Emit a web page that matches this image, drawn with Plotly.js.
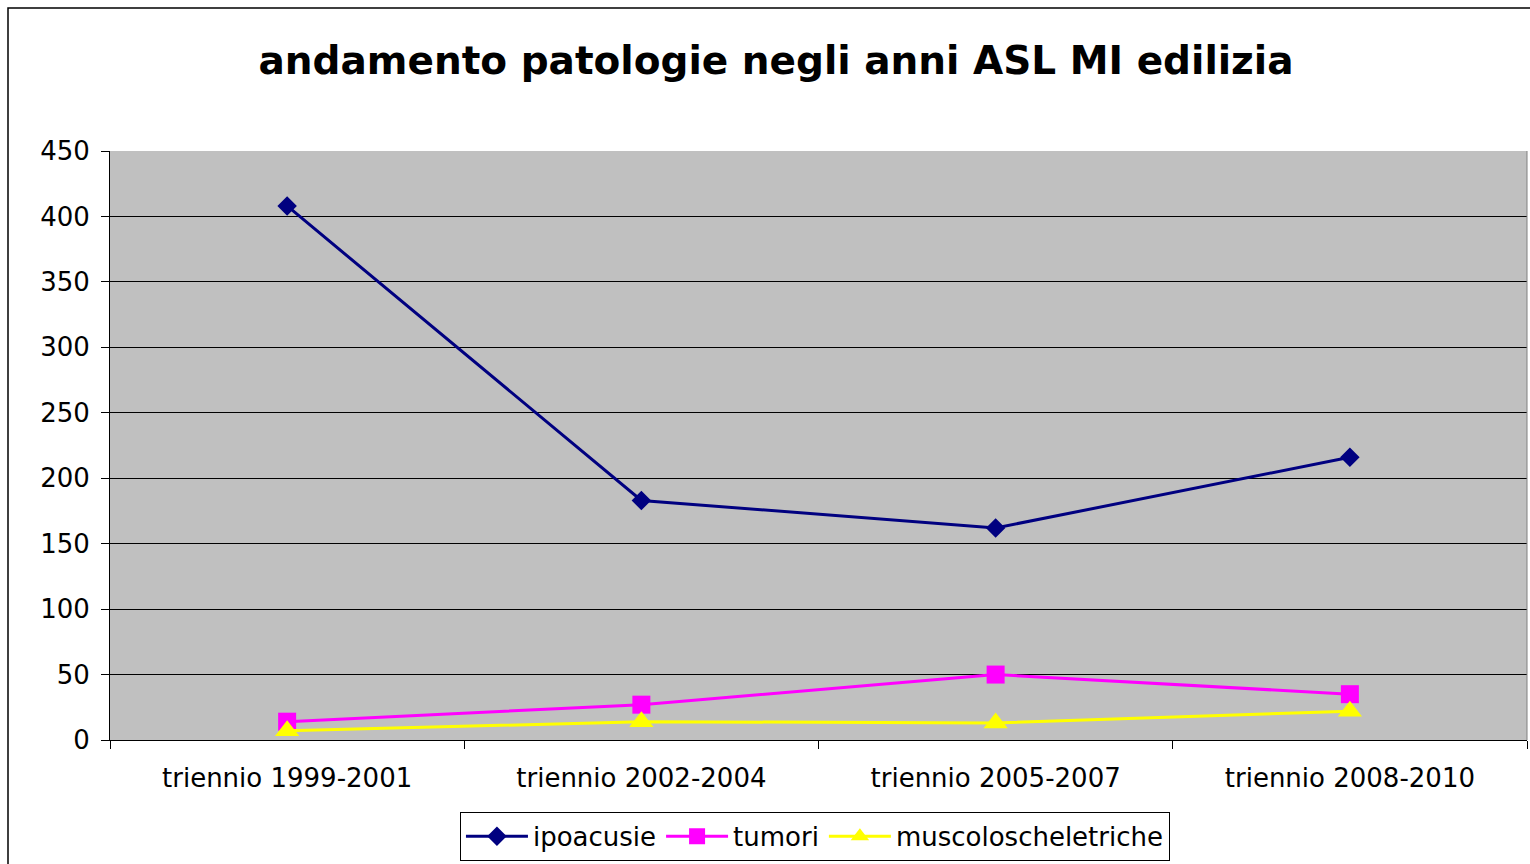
<!DOCTYPE html>
<html>
<head>
<meta charset="utf-8">
<script src="https://cdn.plot.ly/plotly-3.0.1.min.js"></script>
<style>html,body{margin:0;padding:0;background:#fff;}#chart{width:1530px;height:864px;}</style>
</head>
<body>
<div id="chart"></div>
<script>
var categories = ["triennio 1999-2001", "triennio 2002-2004", "triennio 2005-2007", "triennio 2008-2010"];
var ipoacusie = [408, 183, 162, 216];
var tumori = [14, 27, 50, 35];
var muscoloscheletriche = [7, 14, 13, 22];
var yTicks = [0, 50, 100, 150, 200, 250, 300, 350, 400, 450];

var tickFont = {family: "DejaVu Sans, Liberation Sans, Arial", size: 26, color: "#000"};

var traces = [
  {x: categories, y: ipoacusie, name: "ipoacusie", type: "scatter", mode: "lines+markers",
   line: {color: "#000080", width: 3}, marker: {symbol: "diamond", size: 15, color: "#000080"}},
  {x: categories, y: tumori, name: "tumori", type: "scatter", mode: "lines+markers",
   line: {color: "#FF00FF", width: 3}, marker: {symbol: "square", size: 18, color: "#FF00FF"}},
  {x: categories, y: muscoloscheletriche, name: "muscoloscheletriche", type: "scatter", mode: "lines+markers",
   line: {color: "#FFFF00", width: 3}, marker: {symbol: "triangle-up", size: 21, color: "#FFFF00"}}
];

var layout = {
  width: 1530, height: 864,
  paper_bgcolor: "#FFFFFF", plot_bgcolor: "#C0C0C0",
  margin: {l: 110, r: 3, t: 151, b: 124, autoexpand: false},
  title: {text: "<b>andamento patologie negli anni ASL MI edilizia</b>",
          font: {family: "DejaVu Sans, Liberation Sans, Arial", size: 39, color: "#000"},
          x: 776 / 1530, xref: "container", xanchor: "center", y: 0.93, yanchor: "middle"},
  showlegend: true,
  legend: {orientation: "h", x: 0.4975, xanchor: "center", y: -0.122, yanchor: "top",
           bgcolor: "#FFFFFF", bordercolor: "#000", borderwidth: 1,
           font: {family: "DejaVu Sans, Liberation Sans, Arial", size: 26, color: "#000"},
           itemwidth: 62, traceorder: "normal"},
  xaxis: {type: "category", range: [-0.5, 3.5], tickson: "boundaries", ticks: "outside", ticklen: 8, tickcolor: "#000",
          showline: true, linecolor: "#000", linewidth: 1, mirror: false, automargin: false,
          showgrid: false, tickfont: tickFont, ticklabelstandoff: 15, fixedrange: true},
  yaxis: {range: [0, 450], tickmode: "array", tickvals: yTicks, ticktext: yTicks.map(String),
          ticks: "outside", ticklen: 8, tickcolor: "#000", automargin: false,
          showline: true, linecolor: "#000", linewidth: 1, mirror: false,
          showgrid: true, gridcolor: "#000", gridwidth: 1, zeroline: false,
          tickfont: tickFont, ticklabelstandoff: 6, fixedrange: true},
  shapes: [
    {type: "rect", xref: "paper", yref: "paper",
     x0: (8 - 110) / 1417, x1: (1540 - 110) / 1417, y0: -(880 - 740) / 589, y1: (740 - 8) / 589,
     line: {color: "#000", width: 1.5}, fillcolor: "rgba(0,0,0,0)", layer: "below"},
    {type: "line", xref: "paper", yref: "paper", x0: 1, x1: 1, y0: 0, y1: 1,
     line: {color: "#808080", width: 1}}
  ]
};

Plotly.newPlot("chart", traces, layout, {displayModeBar: false, staticPlot: true});
</script>
</body>
</html>
